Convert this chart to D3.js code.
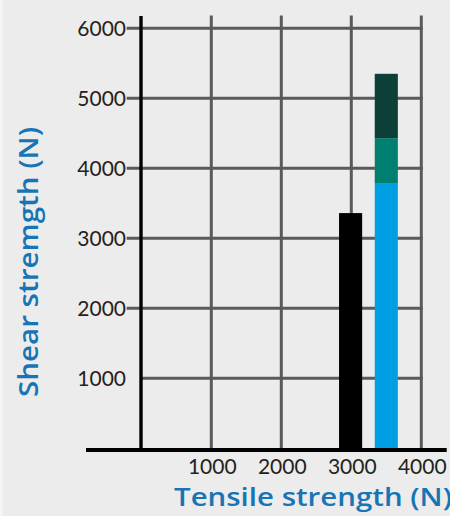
<!DOCTYPE html>
<html>
<head>
<meta charset="utf-8">
<script src="https://cdn.jsdelivr.net/npm/d3@7"></script>
<style>
html,body{margin:0;padding:0;background:#ececec;}
svg{display:block;}
</style>
</head>
<body>
<svg id="chart" width="450" height="516"></svg>
<script>
// ---- data ----
const xTicks = [1000, 2000, 3000, 4000];
const yTicks = [1000, 2000, 3000, 4000, 5000, 6000];
const singleBar = [{x: 2990, value: 3360}];
const stackX = 3500;
const stackSeries = ["base", "middle", "top"];
const stackValues = [3780, 650, 920];
const stackColors = ["#009fe3", "#008070", "#0b3f38"];
const barWidthUnits = 330;
const xTitle = "Tensile strength (N)";
const yTitle = "Shear stremgth (N)";

// ---- layout ----
const svg = d3.select("#chart");
const x = d3.scaleLinear().domain([0, 4000]).range([141.3, 421.3]);
const y = d3.scaleLinear().domain([0, 6000]).range([448.3, 28.3]);
const gridColor = "#5a5a5a";

svg.append("rect").attr("width", 450).attr("height", 516).attr("fill", "#ececec");
svg.append("rect").attr("width", 2.7).attr("height", 516).attr("fill", "#f5f5f5");

// vertical gridlines
svg.append("g").selectAll("line").data(xTicks).join("line")
  .attr("x1", d => x(d)).attr("x2", d => x(d))
  .attr("y1", 15.5).attr("y2", 449)
  .attr("stroke", gridColor).attr("stroke-width", 3);

// horizontal gridlines
svg.append("g").selectAll("line").data(yTicks).join("line")
  .attr("x1", d => d === 1000 ? x(0) : 126.7).attr("x2", x(4000) + 1.5)
  .attr("y1", d => y(d)).attr("y2", d => y(d))
  .attr("stroke", gridColor).attr("stroke-width", 3);

// single bar
svg.append("g").selectAll("rect").data(singleBar).join("rect")
  .attr("x", d => x(d.x - barWidthUnits / 2))
  .attr("width", d => x(d.x + barWidthUnits / 2) - x(d.x - barWidthUnits / 2))
  .attr("y", d => y(d.value))
  .attr("height", d => y(0) - y(d.value))
  .attr("fill", "#000");

// stacked bar
const stackRow = {};
stackSeries.forEach((k, i) => stackRow[k] = stackValues[i]);
const stacked = d3.stack().keys(stackSeries)([stackRow]);
svg.append("g").selectAll("rect").data(stacked).join("rect")
  .attr("x", x(stackX - barWidthUnits / 2))
  .attr("width", x(stackX + barWidthUnits / 2) - x(stackX - barWidthUnits / 2))
  .attr("y", d => y(d[0][1]))
  .attr("height", d => y(d[0][0]) - y(d[0][1]) + (d[0][0] === 0 ? 1 : 0))
  .attr("fill", (d, i) => stackColors[i]);

// axes lines
svg.append("line").attr("x1", 141).attr("x2", 141).attr("y1", 16).attr("y2", 450)
  .attr("stroke", "#000").attr("stroke-width", 3.4);
svg.append("line").attr("x1", 86).attr("x2", 446.7).attr("y1", 450).attr("y2", 450)
  .attr("stroke", "#000").attr("stroke-width", 4);

// tick labels
const font = "Lato, 'Open Sans', sans-serif";
svg.append("g").selectAll("text").data(yTicks).join("text")
  .attr("x", 126).attr("y", d => y(d) + 7.5)
  .attr("text-anchor", "end")
  .attr("font-family", font).attr("font-size", 21).attr("fill", "#222")
  .text(d => d);
svg.append("g").selectAll("text").data(xTicks).join("text")
  .attr("x", d => x(d) + 1).attr("y", 474)
  .attr("text-anchor", "middle")
  .attr("font-family", font).attr("font-size", 21).attr("fill", "#222")
  .text(d => d);

// axis titles
const titleFont = "'Open Sans', Lato, sans-serif";
svg.append("text").attr("x", 174).attr("y", 506)
  .attr("font-family", titleFont).attr("font-weight", 600).attr("font-size", 25)
  .attr("fill", "#1775b6")
  .attr("textLength", 278).attr("lengthAdjust", "spacingAndGlyphs")
  .text(xTitle);
svg.append("text")
  .attr("transform", "translate(38,397) rotate(-90)")
  .attr("font-family", titleFont).attr("font-weight", 600).attr("font-size", 27)
  .attr("fill", "#1775b6")
  .attr("textLength", 270).attr("lengthAdjust", "spacingAndGlyphs")
  .text(yTitle);
</script>
</body>
</html>
